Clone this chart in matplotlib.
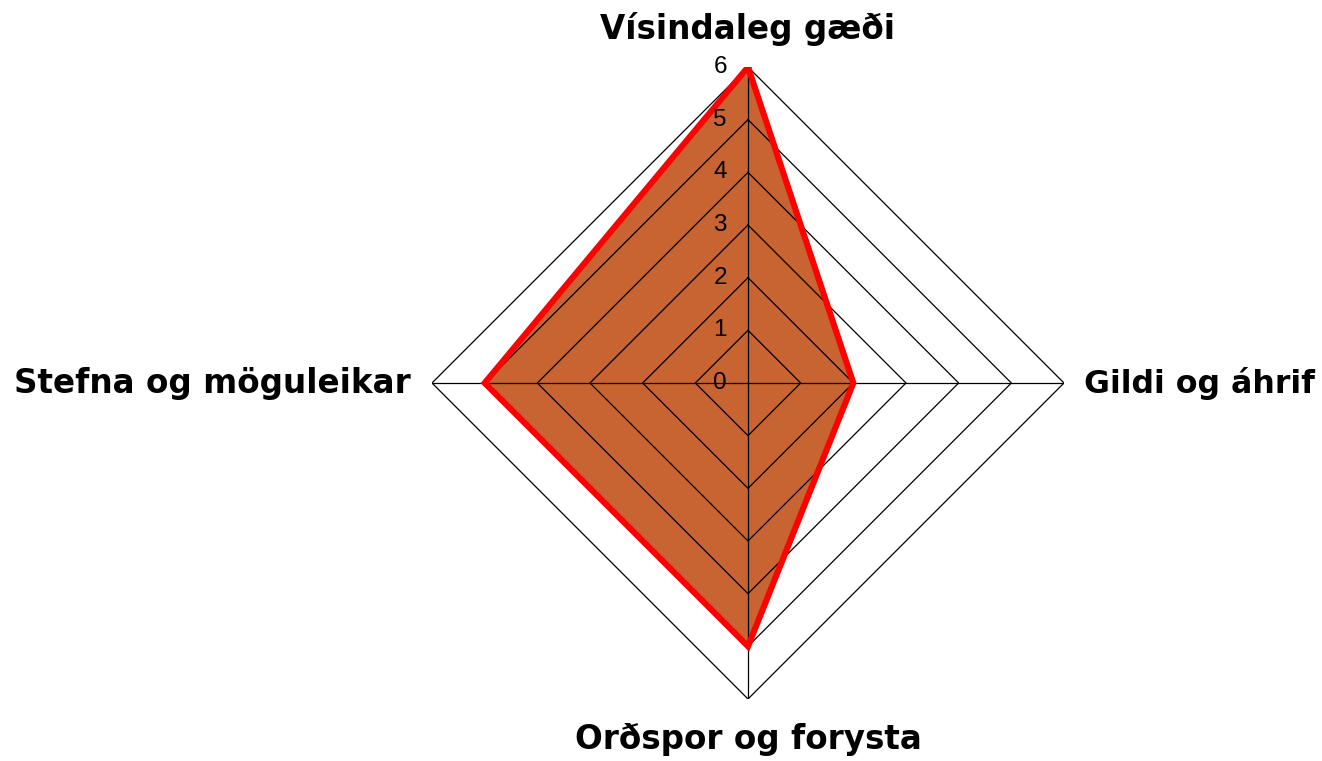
import numpy as np
import matplotlib
matplotlib.use("Agg")
import matplotlib.pyplot as plt

categories = ["Vísindaleg gæði", "Gildi og áhrif", "Orðspor og forysta", "Stefna og möguleikar"]
values = [6, 2, 5, 5]
levels = [1, 2, 3, 4, 5, 6]
tick_labels = ["0", "1", "2", "3", "4", "5", "6"]

W, H, DPI = 1322, 761, 100
fig = plt.figure(figsize=(W / DPI, H / DPI), dpi=DPI)
cx, cy, R = 748, 761 - 383, 316
ax = fig.add_axes([(cx - R) / W, (cy - R) / H, 2 * R / W, 2 * R / H], projection="polar")
ax.set_theta_offset(np.pi / 2)
ax.set_theta_direction(-1)
ax.set_ylim(0, 6)
ax.axis("off")

n = len(categories)
theta = np.arange(n) * 2 * np.pi / n
theta_c = np.append(theta, theta[0])
vals_c = np.append(values, values[0])

ax.fill(theta_c, vals_c, color="#C86432", zorder=1, lw=0)

for lv in levels:
    ax.plot(theta_c, [lv] * (n + 1), color="black", lw=0.9, zorder=2)
for t in theta:
    ax.plot([t, t], [0, levels[-1]], color="black", lw=0.9, zorder=2)

ax.plot(theta_c, vals_c, color="#FF0000", lw=4.4, zorder=3, solid_joinstyle="miter")

for i, lab in enumerate(tick_labels):
    ax.annotate(lab, xy=(0, i), xytext=(-21, 0), textcoords="offset pixels",
                ha="right", va="center", fontsize=17.5, family="Liberation Sans", zorder=4)

offsets = [(0, 38, "center", "center", 23.5), (20, 0, "left", "center", 22.8),
           (0, -40, "center", "center", 23.5), (-21, 0, "right", "center", 23.5)]
for t, lab, (dx, dy, ha, va, fs) in zip(theta, categories, offsets):
    ax.annotate(lab, xy=(t, levels[-1]), xytext=(dx, dy), textcoords="offset pixels",
                ha=ha, va=va, fontsize=fs, fontweight="bold", family="DejaVu Sans",
                annotation_clip=False)

fig.savefig("out.png", dpi=DPI)
